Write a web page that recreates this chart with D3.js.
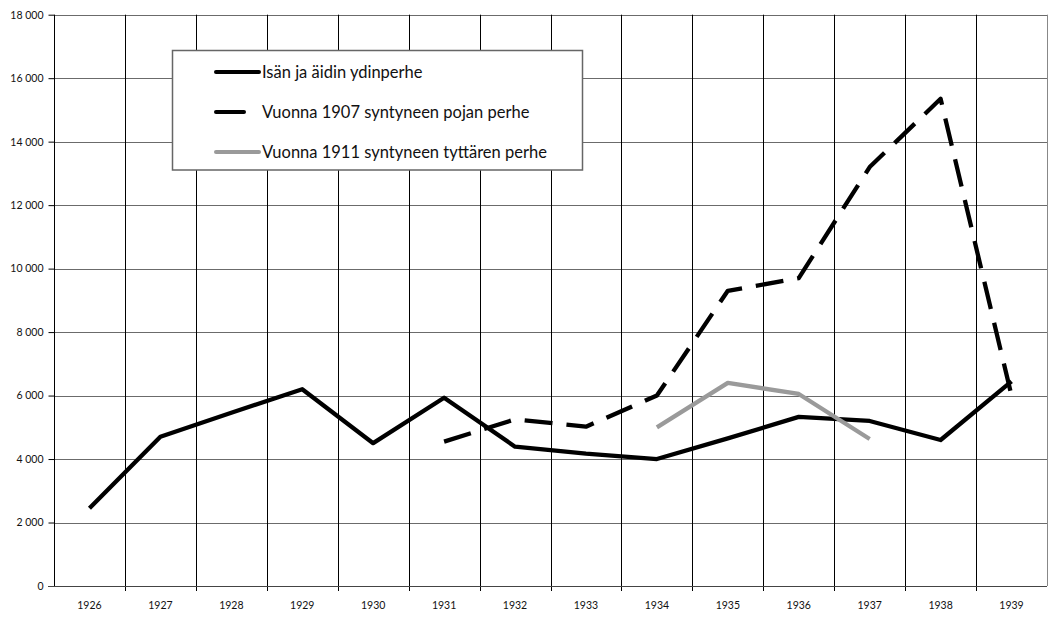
<!DOCTYPE html>
<html>
<head>
<meta charset="utf-8">
<script src="https://cdn.jsdelivr.net/npm/d3@7"></script>
<style>
  body { margin: 0; background: #fff; }
  svg text { font-family: Lato, "Open Sans", sans-serif; fill: #111; }
</style>
</head>
<body>
<svg id="canvas"></svg>
<script>
// chart data
let years = ['1926', '1927', '1928', '1929', '1930', '1931', '1932', '1933', '1934', '1935', '1936', '1937', '1938', '1939'];
let parents = [2450, 4700, 5460, 6200, 4500, 5930, 4390, 4170, 4000, 4650, 5330, 5200, 4600, 6450];
let son1907 = [null, null, null, null, null, 4550, 5250, 5020, 6000, 9300, 9700, 13200, 15350, 6000];
let daughter1911 = [null, null, null, null, null, null, null, null, 5000, 6400, 6050, 4630, null, null];
let seriesNames = ['Isän ja äidin ydinperhe', 'Vuonna 1907 syntyneen pojan perhe', 'Vuonna 1911 syntyneen tyttären perhe'];
let yTicks = [0, 2000, 4000, 6000, 8000, 10000, 12000, 14000, 16000, 18000];

let width = 1053;
let height = 618;
let plotLeft = 54, plotRight = 1047, plotTop = 14.7, plotBottom = 586;

let canvas = d3.select('#canvas');
canvas.attr('width', width);
canvas.attr('height', height);

let xScale = d3.scaleBand().domain(years).range([plotLeft, plotRight]);
let yScale = d3.scaleLinear().domain([0, 18000]).range([plotBottom, plotTop]);

// horizontal grid (grey)
canvas.append('g')
    .selectAll('line')
    .data(yTicks)
    .enter()
    .append('line')
    .attr('x1', plotLeft).attr('x2', plotRight)
    .attr('y1', d => Math.round(yScale(d)) + 0.5)
    .attr('y2', d => Math.round(yScale(d)) + 0.5)
    .attr('stroke', '#6b6b6b');

// vertical grid (black) at category boundaries
canvas.append('g')
    .selectAll('line')
    .data(years.slice(1))
    .enter()
    .append('line')
    .attr('x1', d => Math.round(xScale(d)) + 0.5)
    .attr('x2', d => Math.round(xScale(d)) + 0.5)
    .attr('y1', plotTop).attr('y2', plotBottom + 5)
    .attr('stroke', '#000');

// right border
canvas.append('line')
    .attr('x1', plotRight + 0.5).attr('x2', plotRight + 0.5)
    .attr('y1', plotTop).attr('y2', plotBottom)
    .attr('stroke', '#888');

// axes
let yAxis = d3.axisLeft(yScale)
    .tickValues(yTicks)
    .tickSize(6)
    .tickPadding(5)
    .tickFormat(d => d3.format(',')(d).replace(/,/g, ' '));

canvas.append('g')
    .attr('id', 'y-axis')
    .attr('transform', 'translate(' + (plotLeft + 0.5) + ', 0)')
    .call(yAxis)
    .call(g => g.selectAll('line, path').attr('stroke', '#000'))
    .call(g => g.select('.domain').attr('d', 'M0,' + plotTop + 'V' + plotBottom))
    .call(g => g.selectAll('text').attr('font-size', 10.5).attr('font-family', 'Lato'));

let xAxis = d3.axisBottom(xScale).tickSize(0).tickPadding(15);
canvas.append('g')
    .attr('id', 'x-axis')
    .attr('transform', 'translate(0, ' + (plotBottom + 0.5) + ')')
    .call(xAxis)
    .call(g => g.select('.domain').attr('stroke', '#444').attr('d', 'M' + (plotLeft - 6) + ',0H' + plotRight))
    .call(g => g.selectAll('text').attr('font-size', 10.5).attr('font-family', 'Lato'));

// lines
let line = d3.line()
    .defined(d => d.v !== null)
    .x(d => xScale(d.year) + xScale.bandwidth() / 2)
    .y(d => yScale(d.v));

let toPts = arr => years.map((y, i) => ({ year: y, v: arr[i] }));

let series = [
    { data: parents, color: '#000', dash: null },
    { data: son1907, color: '#000', dash: '28,14' },
    { data: daughter1911, color: '#9a9a9a', dash: null }
];

canvas.append('g')
    .selectAll('path')
    .data(series)
    .enter()
    .append('path')
    .attr('d', s => line(toPts(s.data)))
    .attr('fill', 'none')
    .attr('stroke', s => s.color)
    .attr('stroke-width', 4.3)
    .attr('stroke-linejoin', 'round')
    .attr('stroke-dasharray', s => s.dash);

// legend
let legend = canvas.append('g');
legend.append('rect')
    .attr('x', 172.5).attr('y', 50.5)
    .attr('width', 410).attr('height', 119.5)
    .attr('fill', '#fff')
    .attr('stroke', '#666')
    .attr('stroke-width', 1.5);

let rows = legend.selectAll('g.row')
    .data(series)
    .enter()
    .append('g')
    .attr('class', 'row')
    .attr('transform', (d, i) => 'translate(0,' + (72 + i * 40) + ')');

rows.append('line')
    .attr('x1', 216).attr('x2', (d, i) => i === 1 ? 244 : 259)
    .attr('y1', 0).attr('y2', 0)
    .attr('stroke', d => d.color)
    .attr('stroke-width', 4)
    .attr('stroke-linecap', 'round');

rows.append('text')
    .attr('x', 262)
    .attr('y', 5.5)
    .attr('font-size', 16.5)
    .text((d, i) => seriesNames[i]);
</script>
</body>
</html>
